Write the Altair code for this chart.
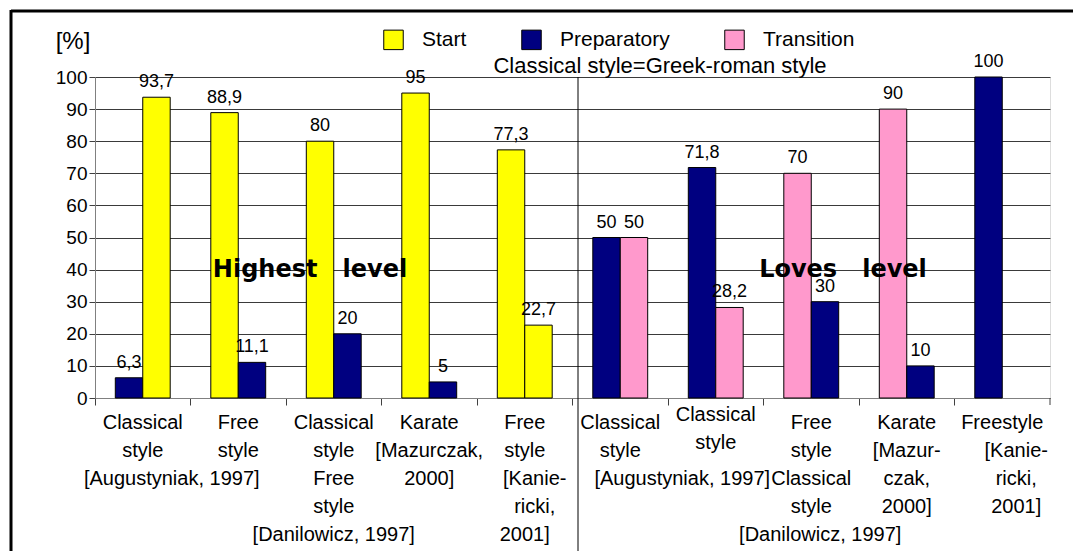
import altair as alt
import pandas as pd

# ---------------- data ----------------
groups = ["G1", "G2", "G3", "G4", "G5", "G6", "G7", "G8", "G9", "G10"]
phases = ["Start", "Preparatory", "Transition"]
phase_colors = ["#FFFF00", "#000080", "#FF99CC"]

bar_group = ["G1", "G1", "G2", "G2", "G3", "G3", "G4", "G4", "G5", "G5",
             "G6", "G6", "G7", "G7", "G8", "G8", "G9", "G9", "G10"]
bar_slot = [0, 1, 0, 1, 0, 1, 0, 1, 0, 1,
            0, 1, 0, 1, 0, 1, 0, 1, 0]
bar_phase = ["Preparatory", "Start", "Start", "Preparatory", "Start", "Preparatory",
             "Start", "Preparatory", "Start", "Start",
             "Preparatory", "Transition", "Preparatory", "Transition",
             "Transition", "Preparatory", "Transition", "Preparatory", "Preparatory"]
bar_value = [6.3, 93.7, 88.9, 11.1, 80, 20, 95, 5, 77.3, 22.7,
             50, 50, 71.8, 28.2, 70, 30, 90, 10, 100]

y_ticks = [0, 10, 20, 30, 40, 50, 60, 70, 80, 90, 100]

# category labels: (group, line, text, nudge)
lab_group = ["G1", "G1", "G1",
             "G2", "G2",
             "G3", "G3", "G3", "G3", "G3",
             "G4", "G4", "G4",
             "G5", "G5", "G5", "G5", "G5",
             "G6", "G6", "G6",
             "G7", "G7",
             "G8", "G8", "G8", "G8", "G8",
             "G9", "G9", "G9", "G9",
             "G10", "G10", "G10", "G10"]
lab_line = [0, 1, 2,
            0, 1,
            0, 1, 2, 3, 4,
            0, 1, 2,
            0, 1, 2, 3, 4,
            0, 1, 2,
            0, 1,
            0, 1, 2, 3, 4,
            0, 1, 2, 3,
            0, 1, 2, 3]
lab_text = ["Classical", "style", "[Augustyniak, 1997]",
            "Free", "style",
            "Classical", "style", "Free", "style", "[Danilowicz, 1997]",
            "Karate", "[Mazurczak,", "2000]",
            "Free", "style", "[Kanie-", "ricki,", "2001]",
            "Classical", "style", "[Augustyniak, 1997]",
            "Classical", "style",
            "Free", "style", "Classical", "style", "[Danilowicz, 1997]",
            "Karate", "[Mazur-", "czak,", "2000]",
            "Freestyle", "[Kanie-", "ricki,", "2001]"]
lab_nudge = ["", "", "a1",
             "", "",
             "", "", "", "", "",
             "", "", "",
             "", "", "r1", "r1", "",
             "", "", "a2",
             "up", "up",
             "", "", "", "", "r0",
             "", "", "", "",
             "", "r2", "r2", "r2"]

bars_df = pd.DataFrame({"group": bar_group, "slot": bar_slot,
                        "phase": bar_phase, "value": bar_value})
bars_df["label"] = [f"{v:g}".replace(".", ",") for v in bar_value]
labels_df = pd.DataFrame({"group": lab_group, "line": lab_line,
                          "text": lab_text, "nudge": lab_nudge})
one = pd.DataFrame({"k": [0]})

FONT = "Liberation Sans"
W, H = 955, 321
NBSP3 = "\u00a0\u00a0\u00a0"

xscale = alt.Scale(domain=groups, paddingInner=0, paddingOuter=0)
yscale = alt.Scale(domain=[0, 100], nice=False, zero=True)
offscale = alt.Scale(domain=[0, 1], paddingInner=0, paddingOuter=0.74)

x_axis = alt.Axis(labels=False, title=None, bandPosition=0, tickSize=7,
                  tickColor="#404040", domainColor="#808080", grid=False)
y_axis = alt.Axis(values=y_ticks, title=None, tickSize=6,
                  labelFontSize=19, labelFont=FONT, labelPadding=2,
                  labelColor="black", labelOverlap=False,
                  tickColor="#404040",
                  domainColor="#808080", gridColor="#3a3a3a",
                  gridWidth=1)

bars = alt.Chart(bars_df).mark_bar(stroke="black", strokeWidth=1).encode(
    x=alt.X("group:N", scale=xscale, axis=x_axis),
    xOffset=alt.XOffset("slot:O", scale=offscale),
    y=alt.Y("value:Q", scale=yscale, axis=y_axis),
    color=alt.Color("phase:N", scale=alt.Scale(domain=phases, range=phase_colors),
                    legend=alt.Legend(title=None, orient="none", legendX=288, legendY=-48,
                                      direction="horizontal", symbolType="square",
                                      symbolSize=380, symbolStrokeColor="black",
                                      symbolStrokeWidth=1, symbolOpacity=1,
                                      labelFontSize=21, labelFont=FONT,
                                      labelColor="black", labelOffset=18,
                                      columnPadding=52, padding=0)),
)

value_text = alt.Chart(bars_df).mark_text(
    baseline="bottom", dy=-6, fontSize=18, font=FONT, color="black"
).encode(
    x=alt.X("group:N", scale=xscale, axis=x_axis),
    xOffset=alt.XOffset("slot:O", scale=offscale),
    y=alt.Y("value:Q", scale=yscale, axis=y_axis),
    text="label:N",
)

ann_high = alt.Chart(one).mark_text(
    fontSize=24, font="DejaVu Sans", fontWeight="bold", color="black"
).encode(x=alt.value(215), y=alt.value(H * 0.6),
         text=alt.value("Highest" + NBSP3 + "level"))
ann_low = alt.Chart(one).mark_text(
    fontSize=24, font="DejaVu Sans", fontWeight="bold", color="black"
).encode(x=alt.value(748), y=alt.value(H * 0.6),
         text=alt.value("Loves" + NBSP3 + "level"))

subtitle = alt.Chart(one).mark_text(fontSize=22, font=FONT, color="black").encode(
    x=alt.value(565), y=alt.value(-11),
    text=alt.value("Classical style=Greek-roman style"))
unit = alt.Chart(one).mark_text(fontSize=24, font=FONT, color="black").encode(
    x=alt.value(-22), y=alt.value(-35), text=alt.value("[%]"))

divider = alt.Chart(one).mark_rule(color="black", strokeWidth=1).encode(
    x=alt.value(483), y=alt.value(0), y2=alt.value(551 - 77))
frame_top = alt.Chart(one).mark_rule(color="black", strokeWidth=3).encode(
    x=alt.value(-84), x2=alt.value(1073 - 95), y=alt.value(-66))
frame_left = alt.Chart(one).mark_rule(color="black", strokeWidth=3).encode(
    x=alt.value(-84), y=alt.value(-67), y2=alt.value(551 - 77))
end_tick = alt.Chart(one).mark_rule(color="#404040", strokeWidth=1).encode(
    x=alt.value(W), y=alt.value(H), y2=alt.value(H + 7))

# category label rows: one text layer per (line, nudge) combination
nudges = {"": (0, 0), "a1": (29, 0), "a2": (62, 0), "up": (0, -8),
          "r0": (9, 0), "r1": (10, 0), "r2": (14, 0)}
LINE0, LINE_STEP = 346, 28
label_layers = []
for key, (ddx, ddy) in nudges.items():
    for ln in range(5):
        if not ((labels_df["nudge"] == key) & (labels_df["line"] == ln)).any():
            continue
        label_layers.append(
            alt.Chart(labels_df).transform_filter(
                (alt.datum.nudge == key) & (alt.datum.line == ln)
            ).mark_text(
                fontSize=20, font=FONT, color="black", baseline="middle",
                dx=ddx, dy=ddy
            ).encode(
                x=alt.X("group:N", scale=xscale, axis=x_axis),
                y=alt.value(LINE0 + LINE_STEP * ln),
                text="text:N",
            )
        )

chart = alt.layer(bars, value_text, ann_high, ann_low, subtitle, unit,
                  divider, frame_top, frame_left, end_tick,
                  *label_layers).properties(
    width=W, height=H,
    padding={"left": 95, "top": 77, "right": 23, "bottom": 153},
    autosize=alt.AutoSizeParams(type="none"),
    background="white",
).configure_view(fill="#CCFFFF", stroke="#808080", strokeWidth=1).configure(
    font=FONT)

chart.save("out.html", embed_options={"renderer": "svg", "actions": False})
